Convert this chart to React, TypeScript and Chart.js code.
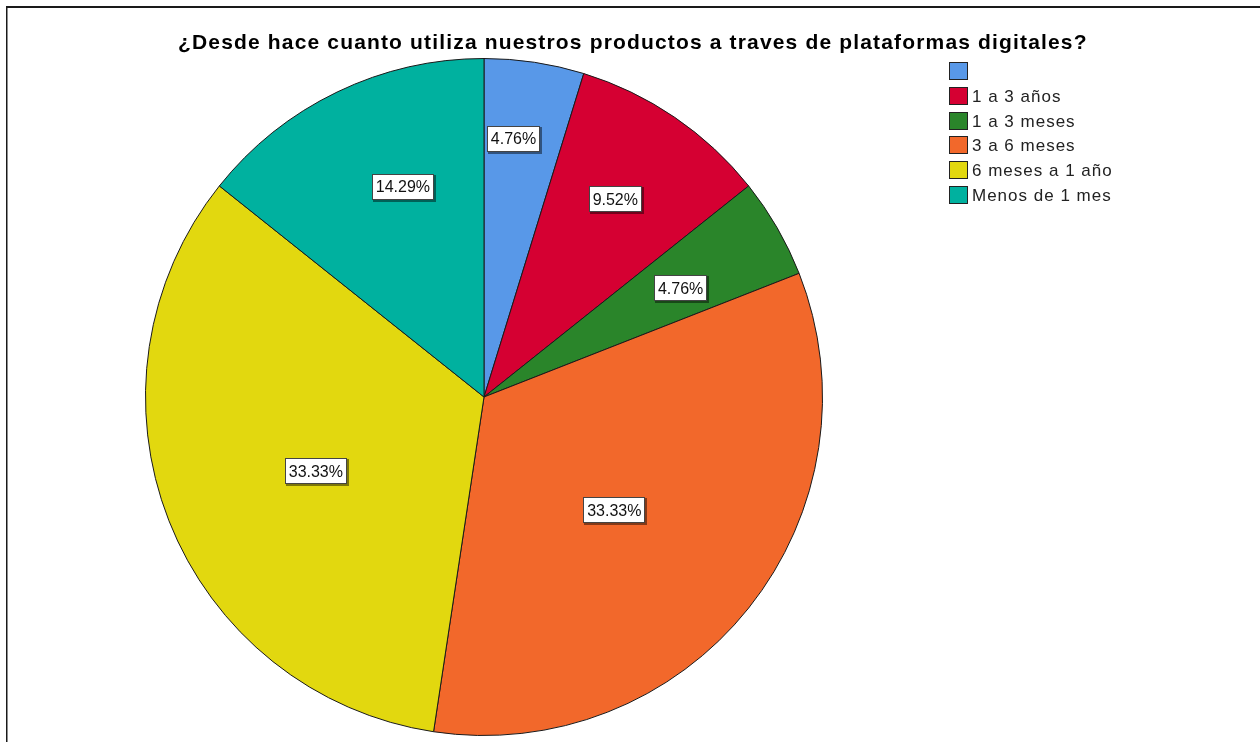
import React, { useEffect, useRef } from "react";
import { Chart, registerables } from "chart.js";

Chart.register(...registerables);

const categories: string[] = ["", "1 a 3 años", "1 a 3 meses", "3 a 6 meses", "6 meses a 1 año", "Menos de 1 mes"];
const counts: number[] = [1, 2, 1, 7, 7, 3];
const colors: string[] = ["#5898E8", "#D50032", "#2A852A", "#F2682B", "#E2D80F", "#00B19F"];
const titleText = "¿Desde hace cuanto utiliza nuestros productos a traves de plataformas digitales?";

// label placement inside each slice: fraction along the arc and fraction of radius
const labelAngleFrac = [0.38, 0.48, 0.56, 0.52, 0.48, 0.59];
const labelRadiusFrac = [0.768, 0.701, 0.664, 0.51, 0.543, 0.666];

const decorPlugin = {
  id: "decor",
  beforeDraw(chart: any) {
    const ctx = chart.ctx as CanvasRenderingContext2D;
    ctx.save();
    ctx.fillStyle = "#ffffff";
    ctx.fillRect(0, 0, chart.width, chart.height);
    ctx.fillStyle = "#1a1a1a";
    ctx.fillRect(6, 6, chart.width - 6, 2);
    ctx.fillRect(6, 6, 1.5, chart.height - 6);
    // title
    ctx.font = "bold 21px 'Liberation Sans', Arial, sans-serif";
    const n = Array.from(titleText).length;
    (ctx as any).letterSpacing = "0px";
    const base = ctx.measureText(titleText).width;
    const sp = Math.max(0, (910 - base) / n);
    (ctx as any).letterSpacing = sp.toFixed(2) + "px";
    ctx.textAlign = "left";
    ctx.textBaseline = "alphabetic";
    ctx.fillStyle = "#000000";
    ctx.fillText(titleText, 178, 49);
    ctx.restore();
  },
  afterDatasetsDraw(chart: any) {
    const ctx = chart.ctx as CanvasRenderingContext2D;
    const meta = chart.getDatasetMeta(0);
    const data = chart.data.datasets[0].data as number[];
    const total = data.reduce((a, b) => a + b, 0);
    ctx.save();
    ctx.font = "16px 'Liberation Sans', Arial, sans-serif";
    ctx.textAlign = "center";
    ctx.textBaseline = "middle";
    meta.data.forEach((arc: any, i: number) => {
      const p = arc.getProps(["x", "y", "startAngle", "endAngle", "outerRadius"], true);
      const a = p.startAngle + labelAngleFrac[i] * (p.endAngle - p.startAngle);
      const r = p.outerRadius * labelRadiusFrac[i];
      const cx = p.x + Math.cos(a) * r;
      const cy = p.y + Math.sin(a) * r;
      const txt = ((data[i] / total) * 100).toFixed(2) + "%";
      const w = Math.round(ctx.measureText(txt).width + 8);
      const h = 26;
      const x0 = Math.round(cx - w / 2);
      const y0 = Math.round(cy - h / 2);
      ctx.fillStyle = "rgba(0,0,0,0.45)";
      ctx.fillRect(x0 + 1, y0 + 1, w + 1, h + 1);
      ctx.fillStyle = "#ffffff";
      ctx.fillRect(x0, y0, w, h);
      ctx.strokeStyle = "#444444";
      ctx.lineWidth = 1;
      ctx.strokeRect(x0 + 0.5, y0 + 0.5, w - 1, h - 1);
      ctx.fillStyle = "#111111";
      ctx.fillText(txt, cx, cy + 1);
    });
    // legend
    const labels = chart.data.labels as string[];
    const bg = chart.data.datasets[0].backgroundColor as string[];
    ctx.textAlign = "left";
    ctx.font = "17px 'Liberation Sans', Arial, sans-serif";
    (ctx as any).letterSpacing = "1px";
    labels.forEach((lab, i) => {
      const yy = Math.round(62 + i * 24.8);
      ctx.fillStyle = bg[i];
      ctx.fillRect(949, yy, 19, 18);
      ctx.strokeStyle = "#222222";
      ctx.lineWidth = 1;
      ctx.strokeRect(949.5, yy + 0.5, 18, 17);
      ctx.fillStyle = "#222222";
      ctx.fillText(lab, 972, yy + 10);
    });
    ctx.restore();
  },
};

export default function App() {
  const ref = useRef<HTMLCanvasElement | null>(null);
  useEffect(() => {
    if (!ref.current) return;
    const chart = new Chart(ref.current, {
      type: "pie",
      data: {
        labels: categories,
        datasets: [
          {
            data: counts,
            backgroundColor: colors,
            borderColor: "#1a1a1a",
            borderWidth: 1,
            hoverOffset: 0,
          },
        ],
      },
      options: {
        responsive: false,
        animation: false,
        layout: { padding: { left: 145, top: 58, right: 437, bottom: 6 } },
        plugins: {
          legend: { display: false },
          title: { display: false },
          tooltip: { enabled: false },
        },
      },
      plugins: [decorPlugin],
    });
    return () => chart.destroy();
  }, []);
  return (
    <div style={{ position: "absolute", left: 0, top: 0, width: 1260, height: 742 }}>
      <canvas ref={ref} width={1260} height={742} style={{ display: "block" }} />
    </div>
  );
}
